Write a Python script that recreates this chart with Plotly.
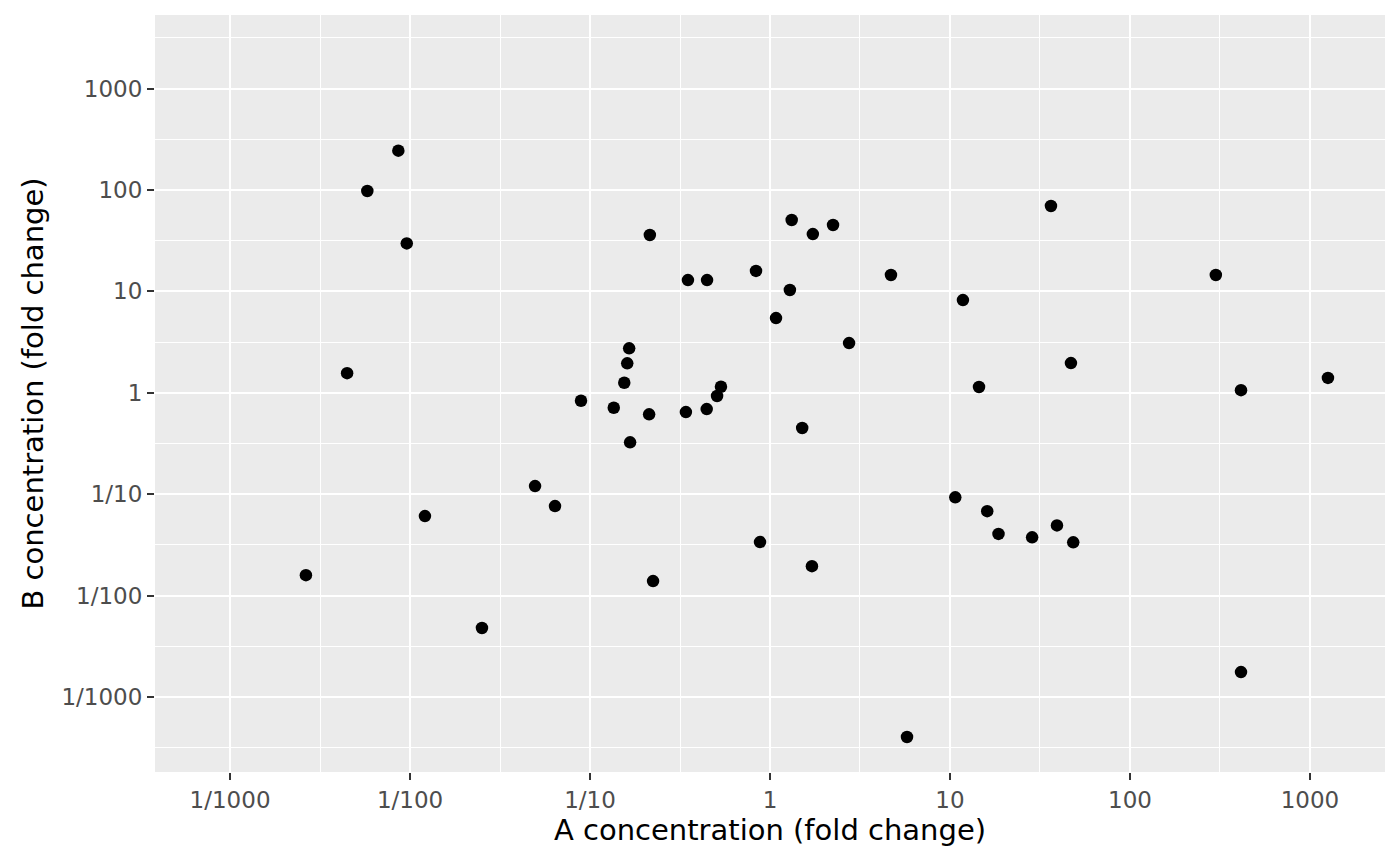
import plotly.graph_objects as go

# fold changes
a_conc = [
    0.00264, 0.00447, 0.00579, 0.00861, 0.00959, 0.0121, 0.0251, 0.0495,
    0.0639, 0.0891, 0.1355, 0.155, 0.161, 0.165, 0.167, 0.213, 0.215,
    0.224, 0.341, 0.350, 0.445, 0.447, 0.508, 0.534, 0.836, 0.880, 1.08,
    1.29, 1.32, 1.51, 1.71, 1.73, 2.24, 2.75, 4.70, 5.77, 10.7, 11.8,
    14.5, 16.1, 18.6, 28.6, 36.4, 39.3, 47.0, 48.4, 300, 414, 414, 1259,
]
b_conc = [
    0.0159, 1.56, 97.5, 244, 29.7, 0.0608, 0.00479, 0.120,
    0.0763, 0.834, 0.711, 1.255, 1.95, 2.74, 0.324, 0.612, 35.9,
    0.0139, 0.645, 12.9, 0.690, 12.9, 0.928, 1.146, 15.9, 0.0337, 5.45,
    10.3, 50.5, 0.449, 0.0195, 36.7, 45.1, 3.09, 14.5, 0.000403, 0.093, 8.2,
    1.14, 0.068, 0.0405, 0.0375, 69.4, 0.0492, 1.96, 0.0335, 14.5, 1.06, 0.00176, 1.40,
]

tick_vals = [0.001, 0.01, 0.1, 1, 10, 100, 1000]
tick_text = ["1/1000", "1/100", "1/10", "1", "10", "100", "1000"]
minor_vals = [10 ** (k + 0.5) for k in range(-4, 4)]

fig = go.Figure(
    go.Scatter(
        x=a_conc,
        y=b_conc,
        mode="markers",
        marker=dict(color="black", size=12.5),
        hovertemplate="A: %{x}<br>B: %{y}<extra></extra>",
    )
)

axis_style = dict(
    type="log",
    tickmode="array",
    tickvals=tick_vals,
    ticktext=tick_text,
    showgrid=True,
    gridcolor="white",
    gridwidth=2.2,
    zeroline=False,
    showline=False,
    ticks="outside",
    ticklen=7,
    tickwidth=2,
    tickcolor="#333333",
    tickfont=dict(family="DejaVu Sans", size=23, color="#4D4D4D"),
    minor=dict(
        tickmode="array",
        tickvals=minor_vals,
        showgrid=True,
        gridcolor="white",
        gridwidth=1,
        ticklen=0,
    ),
)

# the page body has an 8px margin, so the figure is sized to fit inside it
fig.update_layout(
    width=1384,
    height=850,
    margin=dict(l=147, r=7, t=7, b=86),
    paper_bgcolor="white",
    plot_bgcolor="#EBEBEB",
    showlegend=False,
    font=dict(family="DejaVu Sans", color="black"),
)
fig.update_xaxes(
    **axis_style,
    range=[-3.417, 3.417],
    title=dict(text="A concentration (fold change)", font=dict(size=29), standoff=5),
)
fig.update_yaxes(
    **axis_style,
    range=[-3.74, 3.725],
    title=dict(text="B concentration (fold change)", font=dict(size=29), standoff=9),
)

fig.write_html("out.html")
